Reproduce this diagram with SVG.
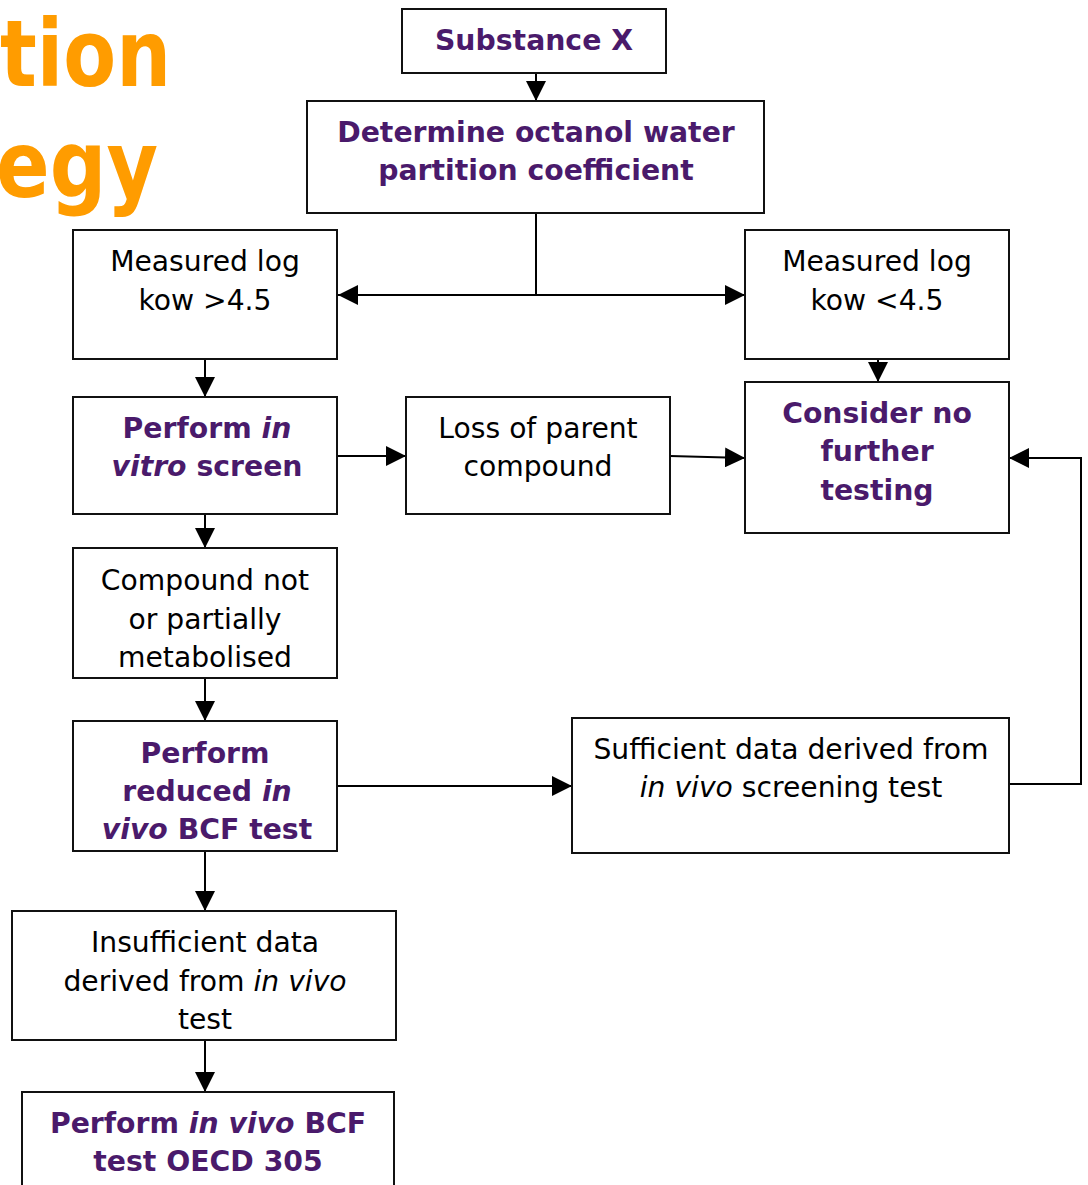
<svg xmlns="http://www.w3.org/2000/svg" width="1088" height="1185" viewBox="0 0 1088 1185">
<style>
.box{fill:#fff;stroke:#111;stroke-width:2}
.t{font-family:"DejaVu Sans","Verdana",sans-serif;font-size:28.2px;fill:#000;text-anchor:middle}
.b{font-weight:bold;fill:#4a1a6b;font-size:28.3px}
.i{font-style:italic}
.title{font-family:"DejaVu Sans",sans-serif;font-weight:bold;font-size:92px;fill:#ff9c00}
.c{fill:none;stroke:#000;stroke-width:2}
</style>
<defs>
<marker id="ah" viewBox="0 0 10 10" refX="10" refY="5" markerWidth="10" markerHeight="10" orient="auto-start-reverse">
<path d="M0,0 L10,5 L0,10 Z" fill="#000"/>
</marker>
</defs>
<rect width="1088" height="1185" fill="#fff"/>
<text class="title" x="0" y="86" textLength="171" lengthAdjust="spacingAndGlyphs">tion</text>
<text class="title" x="-4" y="197" textLength="162" lengthAdjust="spacingAndGlyphs">egy</text>
<g id="connectors">
<line class="c" x1="536" y1="73" x2="536" y2="101" marker-end="url(#ah)"/>
<line class="c" x1="536" y1="213" x2="536" y2="295"/>
<line class="c" x1="338" y1="295" x2="745" y2="295" marker-start="url(#ah)" marker-end="url(#ah)"/>
<line class="c" x1="205" y1="359" x2="205" y2="397" marker-end="url(#ah)"/>
<line class="c" x1="878" y1="359" x2="878" y2="382" marker-end="url(#ah)"/>
<line class="c" x1="337" y1="456" x2="406" y2="456" marker-end="url(#ah)"/>
<line class="c" x1="670" y1="456" x2="745" y2="458" marker-end="url(#ah)"/>
<line class="c" x1="205" y1="514" x2="205" y2="548" marker-end="url(#ah)"/>
<line class="c" x1="205" y1="678" x2="205" y2="721" marker-end="url(#ah)"/>
<line class="c" x1="337" y1="786" x2="572" y2="786" marker-end="url(#ah)"/>
<polyline class="c" points="1009,784 1081,784 1081,458 1009,458" marker-end="url(#ah)"/>
<line class="c" x1="205" y1="851" x2="205" y2="911" marker-end="url(#ah)"/>
<line class="c" x1="205" y1="1040" x2="205" y2="1092" marker-end="url(#ah)"/>
</g>
<g id="substance">
<rect class="box" x="402" y="9" width="264" height="64"/>
<text class="t b" x="534" y="50">Substance X</text>
</g>
<g id="determine">
<rect class="box" x="307" y="101" width="457" height="112"/>
<text class="t b" x="536" y="142">Determine octanol water</text>
<text class="t b" x="536" y="180">partition coefficient</text>
</g>
<g id="kow-high">
<rect class="box" x="73" y="230" width="264" height="129"/>
<text class="t" x="205" y="271">Measured log</text>
<text class="t" x="205" y="310">kow &gt;4.5</text>
</g>
<g id="kow-low">
<rect class="box" x="745" y="230" width="264" height="129"/>
<text class="t" x="877" y="271">Measured log</text>
<text class="t" x="877" y="310">kow &lt;4.5</text>
</g>
<g id="invitro">
<rect class="box" x="73" y="397" width="264" height="117"/>
<text class="t b" x="207" y="438">Perform <tspan class="i">in</tspan></text>
<text class="t b" x="207" y="476"><tspan class="i">vitro</tspan> screen</text>
</g>
<g id="loss">
<rect class="box" x="406" y="397" width="264" height="117"/>
<text class="t" x="538" y="438">Loss of parent</text>
<text class="t" x="538" y="476">compound</text>
</g>
<g id="consider">
<rect class="box" x="745" y="382" width="264" height="151"/>
<text class="t b" x="877" y="423">Consider no</text>
<text class="t b" x="877" y="461">further</text>
<text class="t b" x="877" y="500">testing</text>
</g>
<g id="notmetabolised">
<rect class="box" x="73" y="548" width="264" height="130"/>
<text class="t" x="205" y="590">Compound not</text>
<text class="t" x="205" y="629">or partially</text>
<text class="t" x="205" y="667">metabolised</text>
</g>
<g id="reduced">
<rect class="box" x="73" y="721" width="264" height="130"/>
<text class="t b" x="205" y="763">Perform</text>
<text class="t b" x="207" y="801">reduced <tspan class="i">in</tspan></text>
<text class="t b" x="207" y="839"><tspan class="i">vivo</tspan> BCF test</text>
</g>
<g id="sufficient">
<rect class="box" x="572" y="718" width="437" height="135"/>
<text class="t" x="791" y="759">Sufficient data derived from</text>
<text class="t" x="791" y="797"><tspan class="i">in vivo</tspan> screening test</text>
</g>
<g id="insufficient">
<rect class="box" x="12" y="911" width="384" height="129"/>
<text class="t" x="205" y="952">Insufficient data</text>
<text class="t" x="205" y="991">derived from <tspan class="i">in vivo</tspan></text>
<text class="t" x="205" y="1029">test</text>
</g>
<g id="oecd305">
<rect class="box" x="22" y="1092" width="372" height="110"/>
<text class="t b" x="208" y="1133">Perform <tspan class="i">in vivo</tspan> BCF</text>
<text class="t b" x="208" y="1171">test OECD 305</text>
</g>
</svg>
